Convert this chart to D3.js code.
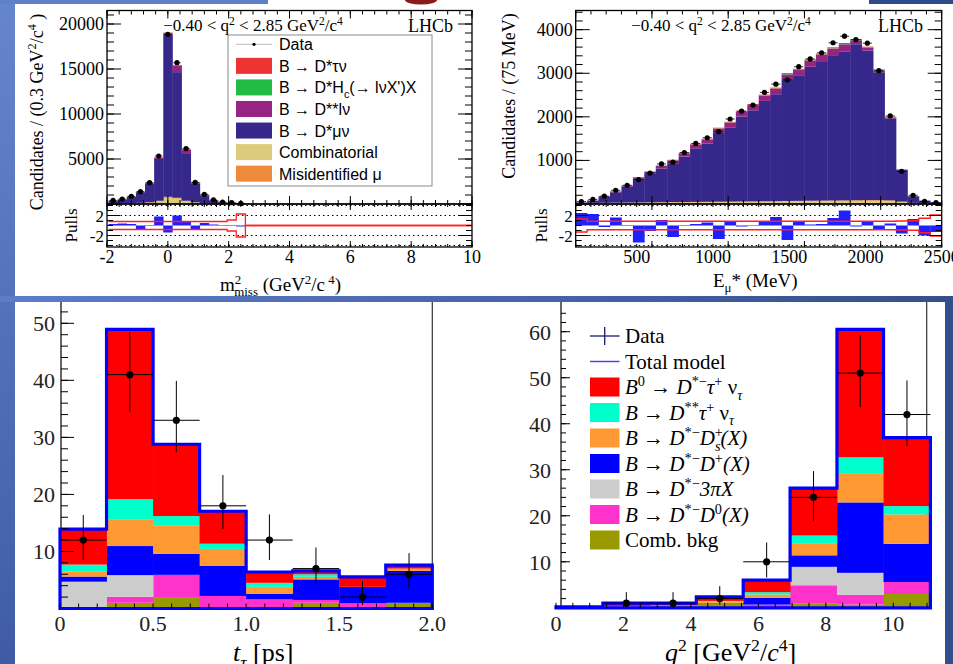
<!DOCTYPE html>
<html><head><meta charset="utf-8">
<script src="https://cdn.jsdelivr.net/npm/d3@7"></script>
<style>body{margin:0;background:#fff}svg{display:block}</style>
</head><body>
<svg id="c" width="953" height="664"></svg>
<script>
// ---------------- DATA ----------------
// Panel A: m2miss (GeV^2/c^4), bins of 0.3
const m2Centers = [-1.8,-1.5,-1.2,-0.9,-0.6,-0.3,0,0.3,0.6,0.9,1.2,1.5,1.8,2.1,2.4];
const m2Data  = [400,550,850,1370,2370,5330,18850,15700,6150,2400,1080,450,220,150,80];
const m2Comb  = [60,70,80,100,150,300,700,600,300,150,80,50,30,20,10];
const m2MisId = [20,20,25,30,40,60,100,90,60,40,25,15,10,5,5];
const m2Dmu   = [280,405,675,1180,2040,4645,17980,13960,5200,2060,865,330,150,105,55];
const m2Dss   = [20,30,40,60,100,150,200,740,480,150,60,30,15,10,5];
const m2Hc    = [5,5,5,8,10,15,20,20,15,10,8,5,4,3,2];
const m2Tau   = [10,10,15,20,25,30,40,40,35,30,25,15,10,8,5];
const m2Pulls = [0.3,0.4,0.3,-0.8,0.1,1.8,-1.4,2.0,0.8,-0.8,0.5,0.2,0.1,-0.1,-0.2];
const m2Band  = [0.8,0.8,0.8,0.8,0.8,0.8,0.8,0.8,0.8,0.8,0.8,0.8,0.8,1.1,2.3];
const m2XTicks = [-2,0,2,4,6,8,10];
const m2YTicks = [5000,10000,15000,20000];

// Panel B: E_mu* (MeV), bins of 75
const eCenters = [137.5,212.5,287.5,362.5,437.5,512.5,587.5,662.5,737.5,812.5,887.5,962.5,1037.5,1112.5,1187.5,1262.5,1337.5,1412.5,1487.5,1562.5,1637.5,1712.5,1787.5,1862.5,1937.5,2012.5,2087.5,2162.5,2237.5,2312.5,2387.5,2462.5];
const eData  = [55,105,180,315,430,560,710,920,960,1180,1390,1520,1660,1950,2130,2270,2560,2750,2850,3150,3330,3470,3700,3850,3770,3690,3060,2020,750,200,60,30];
const eDmu   = [10,49,140,238,362,541,653,776,892,1042,1230,1339,1577,1705,1949,2090,2302,2453,2775,2867,3074,3200,3333,3420,3579,3433,2933,1877,723,150,61,30];
const eDss   = [5,8,12,18,25,35,45,55,65,75,85,90,100,105,110,115,120,125,130,135,140,145,150,160,90,60,40,25,10,4,2,1];
const eComb  = [20,22,24,26,28,30,32,34,36,38,40,42,44,46,48,50,52,55,58,60,62,65,68,70,72,75,75,70,45,20,10,5];
const eMisId = [3,3,4,4,5,5,6,6,7,7,8,8,9,9,10,10,11,11,12,12,13,13,14,14,15,15,15,14,10,6,4,2];
const eTau   = [1,2,3,4,5,6,8,9,10,11,12,13,14,15,16,17,18,19,20,20,21,21,22,22,22,20,18,12,5,2,1,0];
const eHc    = [1,1,2,2,3,3,3,4,4,5,5,5,6,6,6,7,7,7,8,8,8,8,8,8,8,7,6,4,2,1,0,0];
const ePulls = [2.5,2.3,-0.3,1.6,0.1,-3.4,-1.1,1.1,-2.3,0.1,0.3,0.6,-2.7,0.8,-0.2,-0.1,0.8,1.7,-2.9,0.8,0.2,0.3,1.5,3.0,-0.2,0.9,-0.8,0.4,-1.6,1.3,-2.0,-1.3];
const eBand  = [1.3,0.85,0.85,0.85,0.85,0.85,0.85,0.85,0.85,0.85,0.85,0.85,0.85,0.85,0.85,0.85,0.85,0.85,0.85,0.85,0.85,0.85,0.85,0.85,0.85,0.85,0.85,0.85,0.9,0.95,1.45,2.1];
const eXTicks = [500,1000,1500,2000,2500];
const eYTicks = [1000,2000,3000,4000];

// Panel C: t_tau [ps]
const tEdges = [0,0.25,0.5,0.75,1.0,1.25,1.5,1.75,2.0];
const tComb = [0,1.0,2.0,0,0,1.0,0,1.0];
const tD0   = [0,1.05,3.9,2.2,1.6,0.5,0.9,0];
const t3pi  = [4.7,3.8,0,0,0,0,0,0];
const tDp   = [0.9,5.1,3.7,5.25,1.0,3.6,2.9,5.6];
const tDs   = [0.9,4.6,4.9,3.0,1.2,0.45,0,0.4];
const tDss  = [1.2,3.6,1.7,0.9,0.7,0.45,0,0];
const tSig  = [6.2,29.8,12.6,5.7,1.9,0.6,1.75,0.6];
const tData = [12,41,33,18,12,7,2,6];
const tErrHi = [4.4,7.4,6.9,5.4,4.5,3.7,2.7,3.7];
const tErrLo = [3.5,6.5,5.6,4.1,3.5,2.6,1.4,2.5];
const tXTicks = [0,0.5,1.0,1.5,2.0];
const tXLabels = ["0","0.5","1.0","1.5","2.0"];
const tYTicks = [10,20,30,40,50];

// Panel D: q^2 [GeV^2/c^4]
const qEdges = [0,1.39,2.78,4.16,5.55,6.94,8.33,9.71,11.1];
const qComb = [0,0.3,0.5,1.1,0,1.0,0.7,3.0];
const qD0   = [0,0.1,0,0,0.7,3.9,2.1,2.6];
const q3pi  = [0,0,0,0,0,4.0,4.8,0];
const qDp   = [0,0,0,0,1.5,2.5,15.3,8.3];
const qDs   = [0,0,0,0.3,0.7,2.5,6.2,6.4];
const qDss  = [0,0,0,0.1,0.5,1.8,3.6,1.8];
const qSig  = [0.2,0.6,0.5,0.9,2.6,10.3,27.8,14.9];
const qData = [null,1,1,2,10,24,51,42];
const qErrHi = [0,2.4,2.4,2.7,4.2,5.7,8.2,7.4];
const qErrLo = [0,0.8,0.8,1.3,3.4,5.2,7.4,6.8];
const qXTicks = [0,2,4,6,8,10];
const qYTicks = [10,20,30,40,50,60];

// ---------------- DRAWING ----------------
const SERIF = "'Liberation Serif','Times New Roman',serif";
const SANS = "'Liberation Sans',Arial,sans-serif";
const svg = d3.select('#c');
svg.append('rect').attr('width',953).attr('height',664).attr('fill','#fff');

function rich(p, x, y, fs, segs, anchor, fam){
  const t = p.append('text').attr('x',x).attr('y',y).attr('font-size',fs)
    .attr('font-family',fam||SERIF).attr('text-anchor',anchor||'start').attr('fill','#000');
  let cur = 0;
  segs.forEach(s=>{
    if(typeof s==='string') s={t:s};
    const off = s.sup ? -0.38*fs : (s.sub ? 0.28*fs : 0);
    const ts = t.append('tspan').text(s.t).attr('dy', off-cur);
    if(s.dx) ts.attr('dx', s.dx);
    if(s.sup||s.sub) ts.attr('font-size', fs*0.68);
    if(s.i) ts.attr('font-style','italic');
    cur = off;
  });
  return t;
}
function lines(g, data, f, stroke, w){
  g.selectAll(null).data(data).join('line')
    .attr('x1',d=>f(d)[0]).attr('y1',d=>f(d)[1]).attr('x2',d=>f(d)[2]).attr('y2',d=>f(d)[3])
    .attr('stroke',stroke||'#000').attr('stroke-width',w||1);
}
function drawStack(g, xs, ys, lo, hi, layers){
  const n = lo.length;
  const series = d3.stack().keys(d3.range(layers.length)).value((i,k)=>layers[k].v[i])(d3.range(n));
  series.forEach((s,k)=>{
    g.selectAll(null).data(s).join('rect')
      .attr('x',d=>xs(lo[d.data])).attr('width',d=>xs(hi[d.data])-xs(lo[d.data])+0.4)
      .attr('y',d=>ys(d[1])).attr('height',d=>Math.max(0,ys(d[0])-ys(d[1])))
      .attr('fill',layers[k].c);
  });
}

function topPanel(o){
  const g = svg.append('g');
  const {xs, ys, ps} = o;
  const X0 = xs.range()[0], X1 = xs.range()[1];
  const yTop = ys.range()[1], yMid = ys.range()[0], yBot = ps.range()[0];
  const lo = o.centers.map(c=>c-o.hw), hi = o.centers.map(c=>c+o.hw);
  drawStack(g, xs, ys, lo, hi, o.layers);
  // data
  lines(g, o.data, (d,i)=>[0,0,0,0], '#000', 0);
  g.selectAll(null).data(o.data).join('line')
    .attr('x1',(d,i)=>xs(o.centers[i]-o.hw*0.8)).attr('x2',(d,i)=>xs(o.centers[i]+o.hw*0.8))
    .attr('y1',d=>ys(d)).attr('y2',d=>ys(d)).attr('stroke','#000').attr('stroke-width',0.8);
  g.selectAll(null).data(o.data).join('circle')
    .attr('cx',(d,i)=>xs(o.centers[i])).attr('cy',d=>ys(d)).attr('r',2.6).attr('fill','#000');
  // pulls: dotted lines
  g.selectAll(null).data([-4,-2,2,4]).join('line')
    .attr('x1',X0).attr('x2',X1).attr('y1',d=>ps(d)).attr('y2',d=>ps(d))
    .attr('stroke','#000').attr('stroke-width',1).attr('stroke-dasharray','1.5,3');
  g.selectAll(null).data(o.pulls).join('rect')
    .attr('x',(d,i)=>xs(lo[i])).attr('width',(d,i)=>xs(hi[i])-xs(lo[i])+0.3)
    .attr('y',d=>ps(Math.max(0,d))).attr('height',d=>Math.abs(ps(d)-ps(0)))
    .attr('fill','#1f1fff');
  const ln = d3.line().x(d=>xs(d[0])).y(d=>ps(d[1]));
  [1,-1].forEach(sg=>{
    const pts=[]; lo.forEach((l,i)=>{pts.push([l,sg*o.band[i]],[hi[i],sg*o.band[i]]);});
    if(o.tailZero){ pts.push([hi[hi.length-1],0],[xs.domain()[1],0]); }
    g.append('path').attr('d',ln(pts)).attr('fill','none').attr('stroke','#ff2020').attr('stroke-width',1.3);
  });
  // frames
  g.append('rect').attr('x',X0).attr('y',yTop).attr('width',X1-X0).attr('height',yMid-yTop)
    .attr('fill','none').attr('stroke','#000').attr('stroke-width',1.3);
  g.append('rect').attr('x',X0).attr('y',yMid).attr('width',X1-X0).attr('height',yBot-yMid)
    .attr('fill','none').attr('stroke','#000').attr('stroke-width',1.3);
  // ticks
  const tk = g.append('g').attr('stroke','#000').attr('stroke-width',1.2);
  const yMaj = d3.range(0, ys.domain()[1], o.yMajor), yMin = d3.range(0, ys.domain()[1], o.yMinor);
  lines(tk, yMin, v=>[X0,ys(v),X0+7,ys(v)]); lines(tk, yMin, v=>[X1,ys(v),X1-7,ys(v)]);
  lines(tk, yMaj, v=>[X0,ys(v),X0+14,ys(v)]); lines(tk, yMaj, v=>[X1,ys(v),X1-14,ys(v)]);
  const d0 = xs.domain()[0], d1 = xs.domain()[1];
  const xMaj = d3.range(d0, d1+1e-6, o.xMajor).filter(v=>v>=d0), xMin = d3.range(o.xMinStart, d1+1e-6, o.xMinor);
  lines(tk, xMin, v=>[xs(v),yTop,xs(v),yTop+4]); lines(tk, xMaj, v=>[xs(v),yTop,xs(v),yTop+8]);
  lines(tk, xMin, v=>[xs(v),yMid,xs(v),yMid-4]); lines(tk, xMaj, v=>[xs(v),yMid,xs(v),yMid-8]);
  lines(tk, xMin, v=>[xs(v),yMid,xs(v),yMid+3]); lines(tk, xMaj, v=>[xs(v),yMid,xs(v),yMid+6]);
  lines(tk, xMin, v=>[xs(v),yBot,xs(v),yBot-3]); lines(tk, xMaj, v=>[xs(v),yBot,xs(v),yBot-6]);
  const pMin=[-4,-3,-1,0,1,3,4], pMaj=[-2,2];
  lines(tk, pMin, v=>[X0,ps(v),X0+6,ps(v)]); lines(tk, pMin, v=>[X1,ps(v),X1-6,ps(v)]);
  lines(tk, pMaj, v=>[X0,ps(v),X0+13,ps(v)]); lines(tk, pMaj, v=>[X1,ps(v),X1-13,ps(v)]);
  // labels
  o.yTicks.forEach(v=> g.append('text').attr('x',X0-3).attr('y',ys(v)+6).attr('text-anchor','end')
    .attr('font-family',SERIF).attr('font-size',18).text(v));
  [[2,'2'],[-2,'-2']].forEach(([v,s])=> g.append('text').attr('x',X0-3).attr('y',ps(v)+6).attr('text-anchor','end')
    .attr('font-family',SERIF).attr('font-size',17).text(s));
  o.xTicks.forEach(v=> g.append('text').attr('x',xs(v)).attr('y',263).attr('text-anchor','middle')
    .attr('font-family',SERIF).attr('font-size',18).text(v));
  rich(g, o.titleX, 31, 17, ['−0.40 < q',{t:'2',sup:1},' < 2.85 GeV',{t:'2',sup:1},'/c',{t:'4',sup:1}], 'middle');
  g.append('text').attr('x',o.lhcbX).attr('y',32).attr('font-family',SERIF).attr('font-size',18).text('LHCb');
  const yt = g.append('g').attr('transform',`translate(${o.ytX},${o.ytY}) rotate(-90)`);
  rich(yt, 0, 0, 18, o.yTitle, 'middle');
  const pt = g.append('g').attr('transform',`translate(${o.pullX},225.5) rotate(-90)`);
  pt.append('text').attr('text-anchor','middle').attr('font-family',SERIF).attr('font-size',17).text('Pulls');
  rich(g, o.xtX, o.xtY, 19, o.xTitle, 'start');
  return g;
}

const colA = {comb:'#dccb7a', misid:'#ee8a3a', dmu:'#35288a', dss:'#952482', hc:'#22bb44', tau:'#ee3333'};

// Panel A
const xA = d3.scaleLinear([-2,10],[107,472]);
const yA = d3.scaleLinear([0,21500],[204,10.5]);
const pA = d3.scaleLinear([-4.3,4.3],[247,204]);
const gA = topPanel({xs:xA, ys:yA, ps:pA, centers:m2Centers, hw:0.15,
  layers:[{v:m2Comb,c:colA.comb},{v:m2MisId,c:colA.misid},{v:m2Dmu,c:colA.dmu},{v:m2Dss,c:colA.dss},{v:m2Hc,c:colA.hc},{v:m2Tau,c:colA.tau}],
  data:m2Data, pulls:m2Pulls, band:m2Band, tailZero:true,
  yMajor:5000, yMinor:1000, xMajor:2, xMinor:0.4, xMinStart:-2,
  yTicks:m2YTicks, xTicks:m2XTicks, titleX:253, lhcbX:408,
  ytX:43, ytY:112, yTitle:['Candidates / (0.3 GeV',{t:'2',sup:1},'/c',{t:'4',sup:1},' )'],
  pullX:77, xtX:220, xtY:291,
  xTitle:['m',{t:'2',sup:1},{t:'miss',sub:1,dx:-7},'  (GeV',{t:'2',sup:1},'/c',{t:' 4',sup:1},')']});

// Legend A
const legA = [
  {c:null, s:['Data']},
  {c:colA.tau, s:['B → D*τν']},
  {c:colA.hc, s:['B → D*H',{t:'c',sub:1},'(→ lνX\')X']},
  {c:colA.dss, s:['B → D**lν']},
  {c:colA.dmu, s:['B → D*μν']},
  {c:colA.comb, s:['Combinatorial']},
  {c:colA.misid, s:['Misidentified μ']}
];
gA.append('rect').attr('x',228).attr('y',35).attr('width',204).attr('height',151)
  .attr('fill','#fff').attr('stroke','#8a8a8a').attr('stroke-width',1);
legA.forEach((e,i)=>{
  const cy = 44.3 + 21.56*i;
  if(e.c){ gA.append('rect').attr('x',236).attr('y',cy-8).attr('width',36).attr('height',16).attr('fill',e.c); }
  else {
    gA.append('line').attr('x1',236).attr('x2',272).attr('y1',cy).attr('y2',cy).attr('stroke','#bbb').attr('stroke-width',1);
    gA.append('circle').attr('cx',254).attr('cy',cy).attr('r',1.6).attr('fill','#000');
  }
  rich(gA, 279, cy+6, 16, e.s, 'start', SANS);
});

// Panel B
const xB = d3.scaleLinear([100,2500],[575.7,941.7]);
const yB = d3.scaleLinear([0,4440],[204,10.5]);
const pB = d3.scaleLinear([-4.3,4.3],[247,204]);
topPanel({xs:xB, ys:yB, ps:pB, centers:eCenters, hw:37.5,
  layers:[{v:eComb,c:colA.comb},{v:eMisId,c:colA.misid},{v:eDmu,c:colA.dmu},{v:eDss,c:colA.dss},{v:eHc,c:colA.hc},{v:eTau,c:colA.tau}],
  data:eData, pulls:ePulls, band:eBand, tailZero:false,
  yMajor:1000, yMinor:200, xMajor:500, xMinor:100, xMinStart:100,
  yTicks:eYTicks, xTicks:eXTicks, titleX:721, lhcbX:878,
  ytX:515, ytY:96, yTitle:['Candidates / (75 MeV)'],
  pullX:547, xtX:713, xtY:287,
  xTitle:['E',{t:'μ',sub:1},'* (MeV)']});

// Bottom panels
const colC = {comb:'#999900', d0:'#ff33cc', pi:'#cccccc', dp:'#0000ff', ds:'#ff9933', dss:'#00ffcc', sig:'#ff0000'};
function bottomPanel(o){
  const g = svg.append('g');
  const {xs, ys, edges} = o;
  const y0 = ys(0), yTop = 302;
  g.append('line').attr('x1',o.rightX).attr('x2',o.rightX).attr('y1',yTop).attr('y2',y0).attr('stroke','#333').attr('stroke-width',1.2);
  g.append('line').attr('x1',o.axisX).attr('x2',o.axisX).attr('y1',yTop).attr('y2',y0).attr('stroke','#000').attr('stroke-width',1.2);
  const lo = edges.slice(0,-1), hi = edges.slice(1);
  drawStack(g, xs, ys, lo, hi, o.layers);
  // total model outline
  const tot = lo.map((l,i)=>d3.sum(o.layers,L=>L.v[i]));
  const pts = [[edges[0],0]];
  lo.forEach((l,i)=>{pts.push([l,tot[i]],[hi[i],tot[i]]);});
  pts.push([edges[edges.length-1],0]);
  g.append('path').attr('d', d3.line().x(d=>xs(d[0])).y(d=>ys(d[1]))(pts)+'Z')
    .attr('fill','none').attr('stroke','#0000ff').attr('stroke-width',3.2).attr('stroke-linejoin','miter');
  // ticks
  const tk = g.append('g').attr('stroke','#000').attr('stroke-width',1.2);
  lines(tk, o.xMinor, v=>[xs(v),y0,xs(v),y0-5]);
  lines(tk, o.yMinor, v=>[o.axisX,ys(v),o.axisX+o.minLen,ys(v)]);
  lines(tk, o.yTicks, v=>[o.axisX,ys(v),o.axisX+o.majLen,ys(v)]);
  // data
  const idx = d3.range(o.data.length).filter(i=>o.data[i]!==null);
  const dg = g.append('g').attr('stroke','#000').attr('stroke-width',1.6);
  lines(dg, idx, i=>[xs(lo[i]),ys(o.data[i]),xs(hi[i]),ys(o.data[i])]);
  lines(dg, idx, i=>[xs((lo[i]+hi[i])/2),ys(o.data[i]+o.errHi[i]),xs((lo[i]+hi[i])/2),ys(o.data[i]-o.errLo[i])]);
  g.selectAll(null).data(idx).join('circle').attr('cx',i=>xs((lo[i]+hi[i])/2)).attr('cy',i=>ys(o.data[i])).attr('r',3.6).attr('fill','#000');
  // labels
  o.yTicks.forEach(v=> g.append('text').attr('x',o.labX).attr('y',ys(v)+8).attr('text-anchor','end')
    .attr('font-family',SERIF).attr('font-size',22).attr('fill','#222').text(v));
  o.xTicks.forEach((v,i)=> g.append('text').attr('x',xs(v)).attr('y',631).attr('text-anchor','middle')
    .attr('font-family',SERIF).attr('font-size',22).attr('fill','#222').text(o.xLabels?o.xLabels[i]:v));
  rich(g, o.xtX, 661, 26, o.xTitle, 'start');
  return g;
}

const xC = d3.scaleLinear([0,2],[60,432.3]);
const yC = d3.scaleLinear([0,50],[608.5,323.3]);
bottomPanel({xs:xC, ys:yC, edges:tEdges,
  layers:[{v:tComb,c:colC.comb},{v:tD0,c:colC.d0},{v:t3pi,c:colC.pi},{v:tDp,c:colC.dp},{v:tDs,c:colC.ds},{v:tDss,c:colC.dss},{v:tSig,c:colC.sig}],
  data:tData, errHi:tErrHi, errLo:tErrLo, axisX:61, rightX:432.3,
  xMinor:d3.range(0,2.001,0.1), yMinor:d3.range(2,54,2), yTicks:tYTicks, minLen:7, majLen:13,
  labX:55, xTicks:tXTicks, xLabels:tXLabels, xtX:233,
  xTitle:[{t:'t',i:1},{t:'τ',sub:1,i:1},' [ps]']});

const xD = d3.scaleLinear([0,10],[556,893.3]);
const yD = d3.scaleLinear([0,60],[607.8,331.7]);
const gD = bottomPanel({xs:xD, ys:yD, edges:qEdges,
  layers:[{v:qComb,c:colC.comb},{v:qD0,c:colC.d0},{v:q3pi,c:colC.pi},{v:qDp,c:colC.dp},{v:qDs,c:colC.ds},{v:qDss,c:colC.dss},{v:qSig,c:colC.sig}],
  data:qData, errHi:qErrHi, errLo:qErrLo, axisX:561, rightX:926.7,
  xMinor:d3.range(0,11.1,0.5), yMinor:d3.range(2,66,2), yTicks:qYTicks, minLen:5, majLen:9,
  labX:551, xTicks:qXTicks, xtX:665,
  xTitle:[{t:'q',i:1},{t:'2',sup:1},' [GeV',{t:'2',sup:1},'/',{t:'c',i:1},{t:'4',sup:1},']']});

// Legend D
const legD = [
  {k:'data', s:['Data']},
  {k:'model', s:['Total model']},
  {c:colC.sig, s:[{t:'B',i:1},{t:'0',sup:1},' → ',{t:'D',i:1},{t:'*−',sup:1},{t:'τ',i:1},{t:'+',sup:1},' ν',{t:'τ',sub:1,i:1}]},
  {c:colC.dss, s:[{t:'B',i:1},' → ',{t:'D',i:1},{t:'**',sup:1},{t:'τ',i:1},{t:'+',sup:1},' ν',{t:'τ',sub:1,i:1}]},
  {c:colC.ds, s:[{t:'B',i:1},' → ',{t:'D',i:1},{t:'*−',sup:1},{t:'D',i:1},{t:'+',sup:1},{t:'s',sub:1,i:1,dx:-8},{t:'(X)',i:1}]},
  {c:colC.dp, s:[{t:'B',i:1},' → ',{t:'D',i:1},{t:'*−',sup:1},{t:'D',i:1},{t:'+',sup:1},{t:'(X)',i:1}]},
  {c:colC.pi, s:[{t:'B',i:1},' → ',{t:'D',i:1},{t:'*−',sup:1},{t:'3πX',i:1}]},
  {c:colC.d0, s:[{t:'B',i:1},' → ',{t:'D',i:1},{t:'*−',sup:1},{t:'D',i:1},{t:'0',sup:1},{t:'(X)',i:1}]},
  {c:colC.comb, s:['Comb. bkg']}
];
legD.forEach((e,i)=>{
  const cy = 336 + 25.5*i;
  if(e.c){ gD.append('rect').attr('x',590).attr('y',cy-9.5).attr('width',29.5).attr('height',19).attr('fill',e.c); }
  else if(e.k==='data'){
    gD.append('line').attr('x1',590).attr('x2',619.5).attr('y1',cy).attr('y2',cy).attr('stroke','#1a1a70').attr('stroke-width',1.3);
    gD.append('line').attr('x1',604.7).attr('x2',604.7).attr('y1',cy-9).attr('y2',cy+9).attr('stroke','#1a1a70').attr('stroke-width',1.3);
  } else {
    gD.append('line').attr('x1',590).attr('x2',619.5).attr('y1',cy).attr('y2',cy).attr('stroke','#3b3bff').attr('stroke-width',1.4);
  }
  rich(gD, 625, cy+7, 21, e.s, 'start');
});

// ---------------- Slide decorations ----------------
const defs = svg.append('defs');
const gv = defs.append('linearGradient').attr('id','gv').attr('x1',0).attr('y1',0).attr('x2',0).attr('y2',1);
gv.append('stop').attr('offset','0').attr('stop-color','#6585cd');
gv.append('stop').attr('offset','1').attr('stop-color','#3f5ba6');
const gh = defs.append('linearGradient').attr('id','gh').attr('x1',0).attr('y1',0).attr('x2',1).attr('y2',0);
gh.append('stop').attr('offset','0').attr('stop-color','#5d7dc8');
gh.append('stop').attr('offset','1').attr('stop-color','#33508c');
svg.append('rect').attr('x',0).attr('y',0).attr('width',15).attr('height',664).attr('fill','url(#gv)');
svg.append('rect').attr('x',0).attr('y',0).attr('width',268).attr('height',4).attr('fill','#5f80c9');
svg.append('rect').attr('x',869).attr('y',0).attr('width',84).attr('height',4).attr('fill','#2d4a8a');
svg.append('ellipse').attr('cx',421).attr('cy',0).attr('rx',16).attr('ry',4.5).attr('fill','#8b1a1a');
svg.append('rect').attr('x',0).attr('y',296).attr('width',953).attr('height',6).attr('fill','url(#gh)');
svg.append('rect').attr('x',945).attr('y',302).attr('width',8).attr('height',362).attr('fill','#33508d');
</script></body></html>
